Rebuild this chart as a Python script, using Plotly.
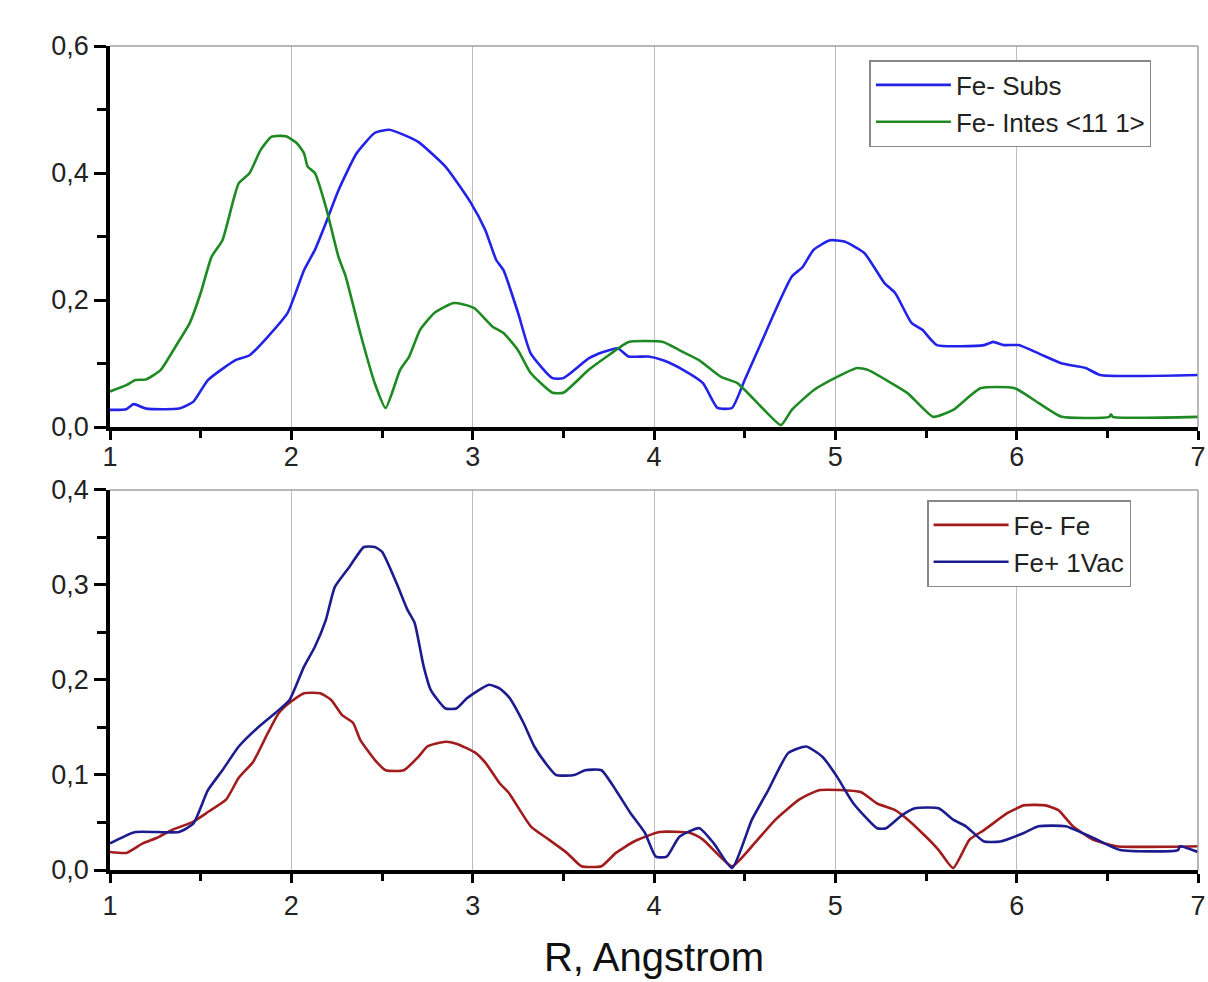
import plotly.graph_objects as go
from plotly.subplots import make_subplots

# ---- Top panel data ----
subs_x = [1.0, 1.09, 1.13, 1.2, 1.38, 1.46, 1.54, 1.69, 1.77, 1.87, 1.98, 2.07, 2.13, 2.19, 2.26, 2.36,
          2.46, 2.54, 2.62, 2.70, 2.85, 2.99, 3.07, 3.13, 3.17, 3.25, 3.32, 3.44, 3.50, 3.64, 3.72,
          3.80, 3.86, 3.97, 4.05, 4.16, 4.27, 4.35, 4.43, 4.50, 4.59, 4.67, 4.76, 4.82, 4.88, 4.97,
          5.05, 5.16, 5.27, 5.33, 5.42, 5.48, 5.56, 5.82, 5.87, 5.93, 6.01, 6.12, 6.25, 6.38, 6.46, 7.0]
subs_y = [0.027, 0.028, 0.036, 0.029, 0.029, 0.040, 0.074, 0.105, 0.113, 0.142, 0.180, 0.247, 0.279, 0.321,
          0.373, 0.431, 0.463, 0.468, 0.460, 0.449, 0.410, 0.353, 0.310, 0.263, 0.247, 0.180, 0.116,
          0.077, 0.077, 0.108, 0.118, 0.124, 0.111, 0.111, 0.105, 0.090, 0.069, 0.030, 0.030, 0.074,
          0.132, 0.184, 0.237, 0.252, 0.279, 0.294, 0.292, 0.274, 0.227, 0.211, 0.164, 0.153, 0.129,
          0.129, 0.134, 0.129, 0.129, 0.116, 0.100, 0.093, 0.082, 0.082]

intes_x = [1.0, 1.09, 1.14, 1.20, 1.28, 1.36, 1.44, 1.50, 1.56, 1.62, 1.68, 1.71, 1.77, 1.83, 1.89, 1.97,
           2.03, 2.07, 2.09, 2.13, 2.19, 2.26, 2.30, 2.38, 2.46, 2.52, 2.60, 2.65, 2.71, 2.79, 2.89,
           2.95, 3.01, 3.11, 3.17, 3.25, 3.32, 3.44, 3.50, 3.64, 3.75, 3.86, 4.05, 4.14, 4.25, 4.37,
           4.46, 4.59, 4.70, 4.76, 4.88, 5.01, 5.12, 5.18, 5.31, 5.40, 5.54, 5.65, 5.80, 5.99, 6.12,
           6.25, 6.51, 6.52, 6.53, 7.0]
intes_y = [0.056, 0.066, 0.074, 0.075, 0.090, 0.126, 0.164, 0.211, 0.268, 0.294, 0.357, 0.384, 0.400,
           0.436, 0.457, 0.458, 0.447, 0.431, 0.410, 0.400, 0.347, 0.268, 0.237, 0.148, 0.069, 0.030,
           0.090, 0.111, 0.153, 0.180, 0.195, 0.193, 0.187, 0.158, 0.148, 0.121, 0.085, 0.054, 0.054,
           0.090, 0.113, 0.134, 0.134, 0.121, 0.105, 0.079, 0.069, 0.032, 0.003, 0.027, 0.058, 0.079,
           0.093, 0.090, 0.069, 0.053, 0.016, 0.027, 0.061, 0.061, 0.038, 0.016, 0.016, 0.020, 0.016,
           0.016]

# ---- Bottom panel data ----
fefe_x = [1.0, 1.09, 1.18, 1.26, 1.34, 1.46, 1.54, 1.64, 1.71, 1.79, 1.87, 1.93, 1.99, 2.07, 2.16, 2.22,
          2.28, 2.34, 2.38, 2.46, 2.52, 2.62, 2.70, 2.75, 2.85, 2.91, 3.01, 3.07, 3.15, 3.20, 3.32,
          3.42, 3.52, 3.60, 3.71, 3.79, 3.89, 4.03, 4.20, 4.27, 4.43, 4.54, 4.67, 4.80, 4.91, 5.14,
          5.23, 5.33, 5.40, 5.50, 5.57, 5.65, 5.74, 5.82, 5.95, 6.04, 6.16, 6.23, 6.31, 6.42, 6.55, 7.0]
fefe_y = [0.019, 0.018, 0.028, 0.034, 0.042, 0.051, 0.061, 0.074, 0.097, 0.114, 0.144, 0.165, 0.176,
          0.186, 0.186, 0.179, 0.163, 0.155, 0.137, 0.116, 0.105, 0.105, 0.119, 0.130, 0.135, 0.133,
          0.124, 0.113, 0.091, 0.081, 0.046, 0.032, 0.018, 0.004, 0.004, 0.018, 0.030, 0.040, 0.039,
          0.032, 0.004, 0.025, 0.053, 0.074, 0.084, 0.082, 0.070, 0.063, 0.053, 0.035, 0.021, 0.002,
          0.032, 0.042, 0.060, 0.068, 0.068, 0.063, 0.046, 0.032, 0.025, 0.025]

vac_x = [1.0, 1.14, 1.38, 1.46, 1.54, 1.62, 1.71, 1.81, 1.91, 1.99, 2.07, 2.13, 2.19, 2.24, 2.32, 2.40,
         2.46, 2.50, 2.58, 2.64, 2.68, 2.73, 2.77, 2.85, 2.91, 2.97, 3.09, 3.15, 3.20, 3.28, 3.34,
         3.40, 3.46, 3.56, 3.62, 3.71, 3.79, 3.87, 3.95, 4.01, 4.07, 4.14, 4.25, 4.33, 4.43, 4.54,
         4.63, 4.74, 4.84, 4.93, 5.01, 5.10, 5.23, 5.28, 5.37, 5.44, 5.57, 5.65, 5.72, 5.82, 5.91,
         6.04, 6.12, 6.27, 6.42, 6.57, 6.89, 6.90, 7.0]
vac_y = [0.028, 0.040, 0.040, 0.049, 0.084, 0.105, 0.130, 0.149, 0.165, 0.179, 0.214, 0.235, 0.263,
         0.298, 0.319, 0.340, 0.340, 0.335, 0.302, 0.274, 0.260, 0.214, 0.189, 0.170, 0.170, 0.181,
         0.195, 0.191, 0.182, 0.155, 0.130, 0.113, 0.100, 0.100, 0.105, 0.105, 0.084, 0.060, 0.039,
         0.014, 0.014, 0.035, 0.044, 0.028, 0.002, 0.053, 0.084, 0.123, 0.130, 0.119, 0.098, 0.070,
         0.044, 0.044, 0.058, 0.065, 0.065, 0.053, 0.046, 0.030, 0.030, 0.039, 0.046, 0.046, 0.034,
         0.021, 0.021, 0.025, 0.019]

x_ticks = [1, 2, 3, 4, 5, 6, 7]

fig = make_subplots(rows=2, cols=1, shared_xaxes=False, vertical_spacing=0.08)

lw = 2.6
sm = 0.5
fig.add_trace(go.Scatter(x=subs_x, y=subs_y, mode="lines", name="Fe- Subs",
                         line=dict(color="#2222e8", width=lw, shape="spline", smoothing=sm),
                         legend="legend"), row=1, col=1)
fig.add_trace(go.Scatter(x=intes_x, y=intes_y, mode="lines", name="Fe- Intes <11 1>",
                         line=dict(color="#1f8a24", width=lw, shape="spline", smoothing=sm),
                         legend="legend"), row=1, col=1)
fig.add_trace(go.Scatter(x=fefe_x, y=fefe_y, mode="lines", name="Fe- Fe",
                         line=dict(color="#a11c1c", width=lw, shape="spline", smoothing=sm),
                         legend="legend2"), row=2, col=1)
fig.add_trace(go.Scatter(x=vac_x, y=vac_y, mode="lines", name="Fe+ 1Vac",
                         line=dict(color="#1c1c8e", width=lw, shape="spline", smoothing=sm),
                         legend="legend2"), row=2, col=1)

tickfont = dict(family="Arial, Liberation Sans, sans-serif", size=27, color="#222")

xcommon = dict(range=[1, 7], tickvals=x_ticks, showgrid=True, gridcolor="#bdbdbd", gridwidth=1,
               showline=True, linecolor="black", linewidth=3.5, ticks="outside", ticklen=9,
               tickwidth=3, tickcolor="black", tickfont=tickfont, zeroline=False,
               ticklabeloverflow="allow", automargin=False,
               minor=dict(ticks="outside", ticklen=7, tickwidth=2.5, tickcolor="black",
                          dtick=0.5, tick0=1, showgrid=False))
fig.update_xaxes(**xcommon)
fig.update_xaxes(row=1, col=1, ticklabelstandoff=-6)
fig.update_xaxes(row=2, col=1, title=dict(text="R, Angstrom",
                                          font=dict(family="Arial, Liberation Sans, sans-serif",
                                                    size=40, color="#111"), standoff=24))

ycommon = dict(showgrid=False, showline=True, linecolor="black", linewidth=3.5, ticks="outside",
               ticklen=12, tickwidth=3, tickcolor="black", tickfont=tickfont, zeroline=False,
               tickformat=".1f", automargin=False)
fig.update_yaxes(**ycommon)
fig.update_yaxes(row=1, col=1, range=[0, 0.6], dtick=0.2, tick0=0,
                 minor=dict(ticks="outside", ticklen=9, tickwidth=2.5, tickcolor="black",
                            dtick=0.1, showgrid=False))
fig.update_yaxes(row=2, col=1, range=[0, 0.4], dtick=0.1, tick0=0,
                 minor=dict(ticks="outside", ticklen=9, tickwidth=2.5, tickcolor="black",
                            dtick=0.05, showgrid=False))

fig.update_layout(
    xaxis=dict(domain=[0, 1]), xaxis2=dict(domain=[0, 1]),
    yaxis=dict(domain=[0.5376, 1.0]), yaxis2=dict(domain=[0.0, 0.4612]),
)

for xr, yr in [("x domain", "y domain"), ("x2 domain", "y2 domain")]:
    fig.add_shape(type="line", xref=xr, yref=yr, x0=0, x1=1, y0=1, y1=1,
                  line=dict(color="#a0a0a0", width=1.5), layer="above")
    fig.add_shape(type="line", xref=xr, yref=yr, x0=1, x1=1, y0=0, y1=1,
                  line=dict(color="#a0a0a0", width=1.5), layer="above")

legfont = dict(family="Arial, Liberation Sans, sans-serif", size=26, color="#222")
fig.update_layout(
    width=1208, height=982,
    margin=dict(l=110, r=10, t=46, b=112),
    paper_bgcolor="white", plot_bgcolor="white",
    separators=",.",
    showlegend=True,
    legend=dict(x=0.698, y=0.983, xanchor="left", yanchor="top", bgcolor="white",
                bordercolor="#888", borderwidth=1.5, font=legfont, itemwidth=75,
                tracegroupgap=0),
    legend2=dict(x=0.751, y=0.449, xanchor="left", yanchor="top", bgcolor="white",
                 bordercolor="#888", borderwidth=1.5, font=legfont, itemwidth=75,
                 tracegroupgap=0),
)

fig.write_html("out.html")
